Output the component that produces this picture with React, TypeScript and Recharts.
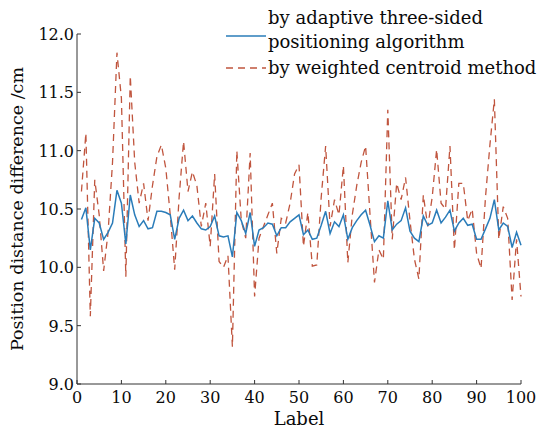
import React from "react";
import { LineChart, Line, XAxis, YAxis, Label } from "recharts";

const labels = Array.from({ length: 100 }, (_, i) => i + 1);

const adaptive = [
  10.41, 10.51, 10.15, 10.42, 10.38, 10.24, 10.3, 10.38, 10.66, 10.55,
  10.2, 10.62, 10.45, 10.35, 10.4, 10.33, 10.34, 10.48, 10.48, 10.47,
  10.45, 10.24, 10.42, 10.49, 10.4, 10.44, 10.38, 10.33, 10.32, 10.35,
  10.44, 10.27, 10.26, 10.27, 10.09, 10.47, 10.4, 10.29, 10.47, 10.18,
  10.32, 10.34, 10.38, 10.37, 10.27, 10.34, 10.34, 10.39, 10.42, 10.45,
  10.28, 10.32, 10.24, 10.25, 10.36, 10.48, 10.29, 10.39, 10.35, 10.45,
  10.24, 10.34, 10.4, 10.45, 10.49, 10.36, 10.22, 10.27, 10.25, 10.57,
  10.32, 10.37, 10.4, 10.51, 10.31, 10.25, 10.22, 10.44, 10.36, 10.38,
  10.49, 10.38, 10.43, 10.49, 10.31, 10.38, 10.42, 10.36, 10.37, 10.24,
  10.24, 10.33, 10.42, 10.58, 10.32, 10.38, 10.35, 10.17, 10.3, 10.19,
];

const weighted = [
  10.65, 11.15, 9.58, 10.75, 10.45, 9.97, 10.3, 10.9, 11.84, 11.45,
  9.92, 11.64, 10.9, 10.55, 10.72, 10.4, 10.7, 10.95, 11.05, 10.85,
  10.45, 9.98, 10.6, 11.08, 10.65, 10.82, 10.7, 10.35, 10.55, 10.18,
  10.8, 10.05, 10.0, 10.1, 9.32, 11.0, 10.4, 10.25, 10.98, 9.75,
  10.25, 10.35, 10.45, 10.55, 10.12, 10.42, 10.38, 10.55, 10.8, 10.88,
  10.18, 10.47, 10.01, 10.02, 10.6, 11.04, 10.35, 10.58, 10.45, 10.87,
  10.04, 10.45, 10.7, 10.9, 11.04, 10.45, 9.87, 10.15, 10.07, 11.35,
  10.24, 10.72, 10.58, 10.77, 10.4, 10.07, 9.9, 10.62, 10.35, 10.6,
  11.01, 10.55, 10.5, 11.04, 10.15, 10.72, 10.72, 10.4, 10.5, 10.12,
  9.99, 10.6, 11.05, 11.44, 10.24, 10.52, 10.42, 9.72, 10.24, 9.75,
];

const xTicks = [0, 10, 20, 30, 40, 50, 60, 70, 80, 90, 100];
const yTicks = [9.0, 9.5, 10.0, 10.5, 11.0, 11.5, 12.0];

const data = labels.map((label, i) => ({
  label,
  adaptive: adaptive[i],
  weighted: weighted[i],
}));

const FONT = "DejaVu Serif";
const BLUE = "#2a7cb9";
const RED = "#c0553e";
const AXIS = "#333";
const TEXT = "#0a0a0a";

const XTick = (props: any) => {
  const { x, y, payload } = props;
  return (
    <g>
      <line x1={x} x2={x} y1={y} y2={y - 4} stroke={AXIS} strokeWidth={1} />
      <text x={x} y={y + 19} textAnchor="middle" fontFamily={FONT} fontSize={16} fill={TEXT}>
        {payload.value}
      </text>
    </g>
  );
};

const YTick = (props: any) => {
  const { x, y, payload } = props;
  return (
    <g>
      <line x1={x} x2={x + 4} y1={y} y2={y} stroke={AXIS} strokeWidth={1} />
      <text x={x - 3} y={y + 6} textAnchor="end" fontFamily={FONT} fontSize={16} fill={TEXT}>
        {Number(payload.value).toFixed(1)}
      </text>
    </g>
  );
};

const LegendBox = () => (
  <svg
    width={320}
    height={82}
    style={{ position: "absolute", left: 220, top: 0, display: "block" }}
  >
    <line x1={6} x2={46} y1={36} y2={36} stroke={BLUE} strokeWidth={1.5} />
    <text x={48} y={24} fontFamily={FONT} fontSize={18} fill={TEXT}>
      by adaptive three-sided
    </text>
    <text x={48} y={48} fontFamily={FONT} fontSize={18} fill={TEXT}>
      positioning algorithm
    </text>
    <line x1={6} x2={46} y1={68} y2={68} stroke={RED} strokeWidth={1.3} strokeDasharray="7 5" />
    <text x={48} y={74} fontFamily={FONT} fontSize={18} fill={TEXT}>
      by weighted centroid method
    </text>
  </svg>
);

export default function App() {
  return (
    <div style={{ position: "absolute", left: 0, top: 0, width: 540, height: 429, background: "#fff" }}>
      <LineChart
        width={540}
        height={429}
        data={data}
        margin={{ top: 34, right: 19, bottom: 0, left: 0 }}
      >
        <XAxis
          dataKey="label"
          type="number"
          domain={[0, 100]}
          ticks={xTicks}
          tick={<XTick />}
          tickSize={0}
          tickMargin={0}
          height={45}
          stroke={AXIS}
          interval={0}
        >
          <Label
            value="Label"
            position="insideBottom"
            offset={4}
            style={{ fontFamily: FONT, fontSize: 18, fill: TEXT }}
          />
        </XAxis>
        <YAxis
          type="number"
          domain={[9, 12]}
          ticks={yTicks}
          tick={<YTick />}
          tickSize={0}
          tickMargin={0}
          width={77}
          stroke={AXIS}
          interval={0}
        >
          <Label
            value="Position distance difference /cm"
            angle={-90}
            position="insideLeft"
            offset={17}
            style={{ fontFamily: FONT, fontSize: 17.5, fill: TEXT, textAnchor: "middle" }}
          />
        </YAxis>
        <Line
          type="linear"
          dataKey="weighted"
          stroke={RED}
          strokeWidth={1.3}
          strokeDasharray="7 5"
          dot={false}
          isAnimationActive={false}
        />
        <Line
          type="linear"
          dataKey="adaptive"
          stroke={BLUE}
          strokeWidth={1.5}
          dot={false}
          isAnimationActive={false}
        />
      </LineChart>
      <LegendBox />
    </div>
  );
}
